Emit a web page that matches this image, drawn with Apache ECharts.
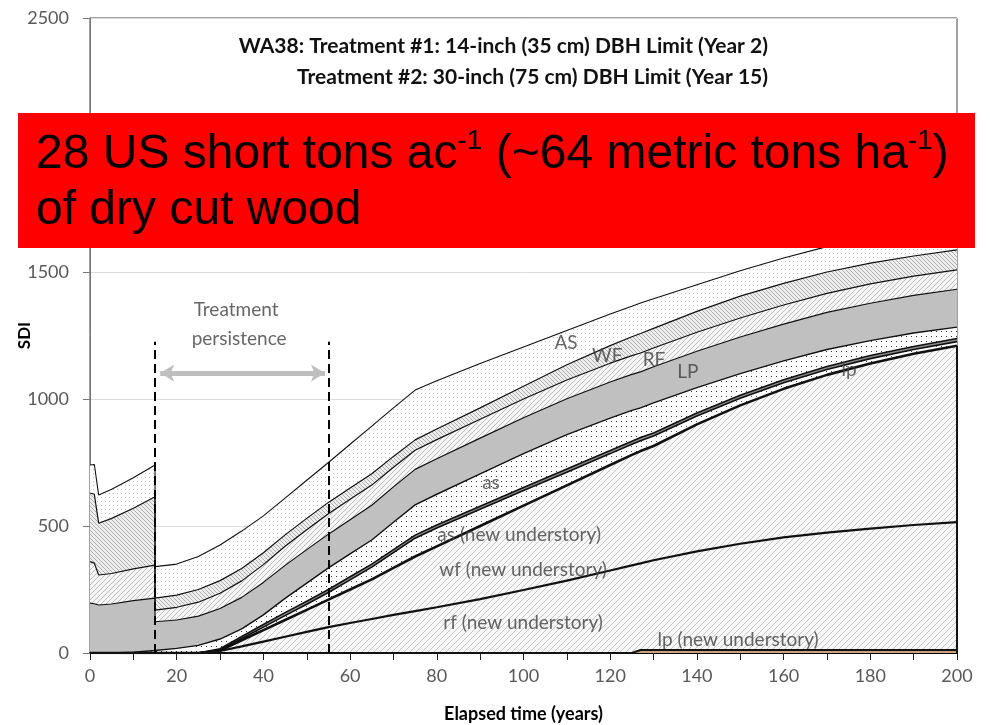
<!DOCTYPE html>
<html><head><meta charset="utf-8">
<script src="https://cdn.jsdelivr.net/npm/echarts@6/dist/echarts.min.js"></script>
<style>html,body{margin:0;padding:0;background:#fff}#c{width:990px;height:725px}</style>
</head><body><div id="c"></div>
<script>
// ---- data (SDI per layer, stacked bottom -> top) ----
const years   = [0,1,2,5,10,15,15,20,25,30,35,40,45,50,55,60,65,70,75,80,90,100,110,120,125,127,130,140,150,160,170,180,190,200];
const lpNew   = [0,0,0,0,0,0,0,0,0,0,0,0,0,0,0,0,0,0,0,0,0,0,0,0,0,12,12,12,12,12,12,12,12,12];
const rfNew   = [0,0,0,0,0,0,0,0,0,8,26,45,64,83,102,118,134,150,165,180,212,248,285,325,345,341,353,388,418,443,462,478,492,503];
const wfNew   = [0,0,0,0,0,0,0,0,0,2,24,45,66,87,108,132,156,185,215,240,288,332,375,415,435,442,450,500,545,585,621,650,674,695];
const asNew   = [0,0,0,0,0,0,0,0,0,3,7,12,17,22,28,38,48,60,72,72,66,60,52,45,42,41,39,33,28,24,21,19,17,16];
const lpSm    = [0,0,0,0,0,0,0,0,0,4,8,10,12,12,12,12,12,12,12,12,12,12,12,12,12,12,12,12,12,12,12,12,12,12];
const asSm    = [0,0,0,0,3,10,12,18,30,38,30,38,56,71,85,90,95,108,119,121,127,133,136,128,121,117,119,100,85,74,67,59,53,45];
const LP      = [196,194,189,193,203,206,111,112,115,120,124,128,130,132,133,135,137,139,140,140,141,141,141,142,142,142,142,143,144,145,146,147,148,149];
const RF      = [164,160,118,120,125,130,46,50,55,60,65,70,75,78,80,80,79,77,75,75,74,74,74,74,74,74,74,75,75,75,75,76,76,76];
const WF      = [270,271,204,217,239,269,47,48,50,50,49,47,45,45,45,45,45,43,41,42,45,50,60,69,74,77,77,82,86,85,84,82,79,79];
const AS      = [110,117,111,115,120,125,124,122,130,140,147,145,145,150,157,172,187,191,196,190,175,155,135,125,120,120,117,105,100,100,100,105,112,118];
const xTicks  = [0,20,40,60,80,100,120,140,160,180,200];
const yTicks  = [0,500,1000,1500,2000,2500];

const FN = "Lato,'Open Sans',sans-serif";
const ARIAL = "'Liberation Sans',Arial,sans-serif";

function tile(size, bg, draw){
  const c=document.createElement('canvas'); c.width=c.height=size;
  const g=c.getContext('2d'); g.fillStyle=bg; g.fillRect(0,0,size,size); draw(g,size);
  return {image:c, repeat:'repeat'};
}
function hatch(size,bg,fg,dir,w){
  return tile(size,bg,(g,s)=>{
    g.strokeStyle=fg; g.lineWidth=w||1; g.beginPath();
    if(dir>0){ g.moveTo(-1,s+1); g.lineTo(s+1,-1); g.moveTo(-1,1); g.lineTo(1,-1); g.moveTo(s-1,s+1); g.lineTo(s+1,s-1); }
    else { g.moveTo(-1,-1); g.lineTo(s+1,s+1); g.moveTo(s-1,-1); g.lineTo(s+1,1); g.moveTo(-1,s-1); g.lineTo(1,s+1); }
    g.stroke();
  });
}
function dots(size,bg,fg,r){
  return tile(size,bg,(g,s)=>{ g.fillStyle=fg; g.fillRect(1,1,r,r); });
}

const layers = [
  {name:'lp (new understory)', v:lpNew, fill:'#c9a27e', lw:2},
  {name:'rf (new understory)', v:rfNew, fill:hatch(6,'#f7f7f7','#c4c4c4',1,1), lw:2.2},
  {name:'wf (new understory)', v:wfNew, fill:hatch(6,'#f7f7f7','#c4c4c4',1,1), lw:2.6},
  {name:'as (new understory)', v:asNew, fill:dots(5,'#ffffff','#444',1), lw:1.6},
  {name:'lp', v:lpSm, fill:'#8c8c8c', lw:1.6},
  {name:'as', v:asSm, fill:dots(5,'#ffffff','#333',1), lw:1.4},
  {name:'LP', v:LP, fill:'#c0c0c0', lw:1.2},
  {name:'RF', v:RF, fill:hatch(5,'#f5f5f5','#bdbdbd',1,1), lw:1.2},
  {name:'WF', v:WF, fill:hatch(4,'#ededed','#b0b0b0',-1,1), lw:1.2},
  {name:'AS', v:AS, fill:dots(4,'#ffffff','#c0c0c0',1), lw:1.1}
];
let cum = years.map(()=>0);
const tops = layers.map(l=>{ cum = cum.map((c,i)=>c+l.v[i]); return cum.slice(); });

const series = [];
for(let k=layers.length-1;k>=0;k--){
  series.push({
    type:'line', name:layers[k].name, animation:false, silent:true,
    data: years.map((x,i)=>[x,tops[k][i]]),
    symbol:'none', showSymbol:false,
    lineStyle:{color:'#111', width:layers[k].lw},
    areaStyle:{color:layers[k].fill, opacity:1},
    z:2
  });
}
const last = years.length-1;
series.push({type:'line', silent:true, animation:false, symbol:'none', z:3,
  data:[[years[last],0],[years[last],tops[2][last]]], lineStyle:{color:'#111', width:2}});

series.push({type:'line', silent:true, animation:false, symbol:'none', z:6,
  data:[[15,0]], lineStyle:{width:0},
  markLine:{silent:true, animation:false, symbol:'none', label:{show:false},
    lineStyle:{color:'#000', width:2, type:[9,5]},
    data:[[{coord:[15,0]},{coord:[15,1225]}],[{coord:[55,0]},{coord:[55,1225]}]]}
});
series.push({type:'line', silent:true, animation:false, symbol:'none', z:6,
  data:[[15,0]], lineStyle:{width:0},
  markLine:{silent:true, animation:false, symbol:['arrow','arrow'], symbolSize:[13,14], label:{show:false},
    lineStyle:{color:'#bfbfbf', width:5, type:'solid'},
    data:[[{coord:[16.2,1102]},{coord:[54.2,1102]}]]}
});

const notes = [
  ['AS',109.8,1220],['WF',119.3,1169],['RF',130.1,1154],['LP',137.9,1106],['lp',175.1,1114],
  ['as',92.5,669],['as (new understory)',99,465],['wf (new understory)',99.9,327],
  ['rf (new understory)',99.9,118],['lp (new understory)',149.5,51],
  ['Treatment',33.7,1350],['persistence',34.4,1236]
];
series.push({type:'scatter', silent:true, animation:false, z:8, symbolSize:0,
  data: notes.map(n=>({value:[n[1],n[2]], label:{formatter:n[0]}})),
  label:{show:true, position:'inside', color:'#404040', fontSize:19, fontFamily:FN}
});

const chart = echarts.init(document.getElementById('c'), null, {renderer:'canvas'});
chart.setOption({
  animation:false,
  backgroundColor:'#fff',
  grid:{left:90, right:33, top:18, bottom:72, containLabel:false, outerBoundsMode:'none',
        show:true, borderColor:'#444', borderWidth:1, backgroundColor:'transparent'},
  xAxis:{type:'value', min:0, max:200, interval:10,
    axisLine:{show:true, onZero:false, lineStyle:{color:'#000', width:2}},
    axisTick:{show:true, length:7, lineStyle:{color:'#222', width:1}},
    axisLabel:{margin:14, color:'#595959', fontSize:18, fontFamily:FN,
      formatter:v=> xTicks.indexOf(v)>=0 ? String(v) : ''},
    splitLine:{show:false},
    name:'Elapsed time (years)', nameLocation:'middle', nameGap:52, nameMoveOverlap:false,
    nameTextStyle:{color:'#000', fontWeight:'bold', fontSize:18, fontFamily:FN}
  },
  yAxis:{type:'value', min:yTicks[0], max:yTicks[yTicks.length-1], interval:500,
    axisLine:{show:true, lineStyle:{color:'#777', width:1}},
    axisTick:{show:true, length:7, lineStyle:{color:'#777'}},
    axisLabel:{margin:21, color:'#595959', fontSize:18, fontFamily:FN, formatter:v=>String(v)},
    splitLine:{show:true, lineStyle:{color:'#dcdcdc', width:1}},
    name:'SDI', nameLocation:'middle', nameGap:57, nameRotate:90, nameMoveOverlap:false,
    nameTextStyle:{color:'#000', fontWeight:'bold', fontSize:17, fontFamily:FN}
  },
  series: series,
  graphic:[
    {type:'text', x:768, y:46, z:50, style:{text:'WA38: Treatment #1: 14-inch (35 cm) DBH Limit (Year 2)', align:'right', verticalAlign:'middle', fill:'#111', font:"bold 21px "+FN}},
    {type:'text', x:768, y:77, z:50, style:{text:'Treatment #2: 30-inch (75 cm) DBH Limit (Year 15)', align:'right', verticalAlign:'middle', fill:'#111', font:"bold 21px "+FN}},
    {type:'rect', z:100, shape:{x:18, y:113, width:957, height:135}, style:{fill:'#ff0000'}},
    {type:'text', z:101, x:36, y:155, style:{
      text:'28 US short tons ac{s|-1} (~64 metric tons ha{s|-1})',
      fill:'#000', fontSize:48, fontFamily:ARIAL, verticalAlign:'middle', lineHeight:56,
      rich:{s:{fontSize:28, fontFamily:ARIAL, fill:'#000', verticalAlign:'top', lineHeight:28}}}},
    {type:'text', z:101, x:36, y:211, style:{text:'of dry cut wood', fill:'#000', fontSize:48, fontFamily:ARIAL, verticalAlign:'middle'}}
  ]
});
</script></body></html>
